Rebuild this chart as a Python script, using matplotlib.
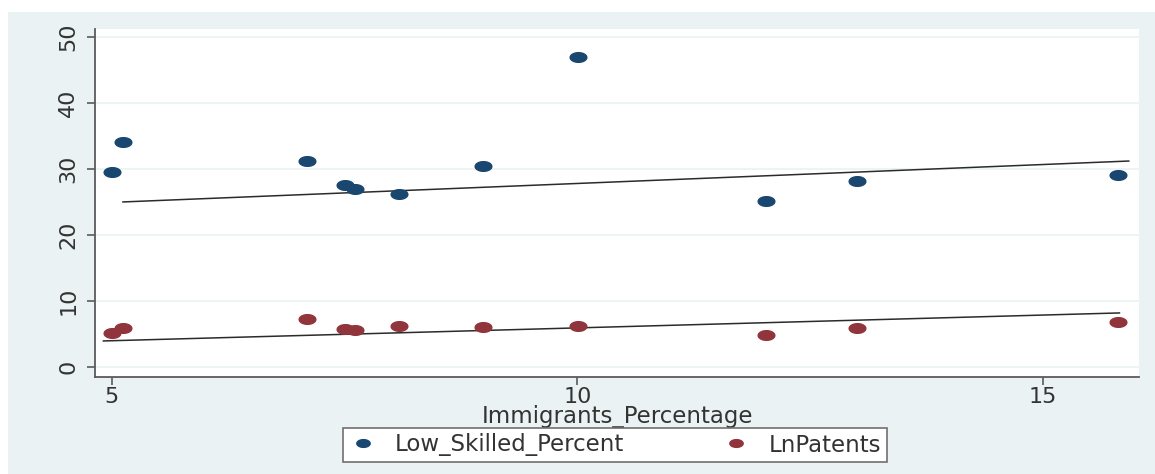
import numpy as np
import matplotlib
matplotlib.use("Agg")
import matplotlib.pyplot as plt
from matplotlib.patches import Rectangle
from matplotlib.path import Path

# Observations: immigrant share vs. low-skilled share and log patents
immigrants_pct = [5.00, 5.12, 7.10, 7.50, 7.61, 8.08, 8.99, 10.01, 12.02, 13.00, 15.80]
low_skilled_pct = [29.5, 34.1, 31.2, 27.6, 27.0, 26.2, 30.5, 47.0, 25.2, 28.2, 29.1]
ln_patents = [5.15, 5.9, 7.3, 5.75, 5.6, 6.2, 6.1, 6.2, 4.85, 5.9, 6.8]

# Linear fit lines (intercept, slope, x-range)
low_skilled_fit = (22.06, 0.574, 5.12, 15.92)
ln_patents_fit = (2.03, 0.389, 4.91, 15.82)

x_ticks = [5, 10, 15]
y_ticks = [0, 10, 20, 30, 40, 50]

series_names = ["Low_Skilled_Percent", "LnPatents"]
colors = ["#1a476f", "#90353b"]
bg = "#eaf2f3"

W, H = 1155, 474
fig = plt.figure(figsize=(W / 100, H / 100), dpi=100, facecolor="white")
fig.patches.append(Rectangle((8 / W, 0), 1 - 8 / W, (H - 12) / H,
                             transform=fig.transFigure, facecolor=bg,
                             edgecolor="none", zorder=-5))

ax = fig.add_axes([95 / W, (H - 377) / H, (1139 - 95) / W, (377 - 29) / H])
ax.set_zorder(2)
ax.set_facecolor("white")

# stretched elliptical marker
t = np.linspace(0, 2 * np.pi, 60)
ell = Path(np.column_stack([np.cos(t), 0.58 * np.sin(t)]), closed=True)

for ys, c, name in zip([low_skilled_pct, ln_patents], colors, series_names):
    ax.plot(immigrants_pct, ys, linestyle="none", marker=ell, markersize=12,
            markerfacecolor=c, markeredgecolor=c, label=name, zorder=3)

for b0, b1, x0, x1 in [low_skilled_fit, ln_patents_fit]:
    xs = np.array([x0, x1])
    ax.plot(xs, b0 + b1 * xs, color="#2b2b2b", linewidth=1.1, zorder=2)

ax.set_xlim(4.82, 16.03)
ax.set_ylim(-1.52, 51.2)
ax.set_xticks(x_ticks)
ax.set_yticks(y_ticks)
ax.grid(axis="y", color=bg, linewidth=1.2, zorder=0)
ax.set_axisbelow(True)

for s in ["top", "right"]:
    ax.spines[s].set_visible(False)
for s in ["left", "bottom"]:
    ax.spines[s].set_color("#5a5a5a")
    ax.spines[s].set_linewidth(1.3)

ax.tick_params(axis="both", colors="#5a5a5a", labelcolor="#333333",
               labelsize=16, length=6, width=1.2)
ax.tick_params(axis="x", pad=1)
ax.tick_params(axis="y", pad=6)
for lbl in ax.get_yticklabels():
    lbl.set_rotation(90)
    lbl.set_va("center")

ax.set_xlabel("Immigrants_Percentage", fontsize=16.5, color="#333333", labelpad=-1)

handles, labels = ax.get_legend_handles_labels()
leg = fig.legend(handles, labels, loc="center", ncol=2,
                 bbox_to_anchor=(615 / W, (H - 445) / H),
                 frameon=True, fancybox=False, fontsize=16.5, framealpha=1,
                 handlelength=1.2, handletextpad=0.8, columnspacing=4.3,
                 borderpad=0.25, borderaxespad=0, markerscale=0.8)
leg.get_frame().set_edgecolor("#707070")
leg.get_frame().set_linewidth(1.2)
for txt in leg.get_texts():
    txt.set_color("#333333")

fig.savefig("out.png", dpi=100, facecolor="white")
